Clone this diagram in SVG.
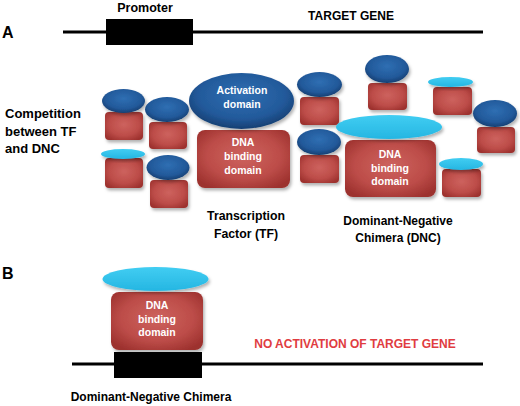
<svg xmlns="http://www.w3.org/2000/svg" width="520" height="406" viewBox="0 0 520 406">
<defs>
<radialGradient id="gRed" cx="50%" cy="45%" r="65%">
<stop offset="0" stop-color="#cd625e"/>
<stop offset="0.6" stop-color="#bd4d49"/>
<stop offset="1" stop-color="#9c302d"/>
</radialGradient>
<radialGradient id="gBlue" cx="50%" cy="40%" r="60%">
<stop offset="0" stop-color="#2f6fb3"/>
<stop offset="0.7" stop-color="#22599a"/>
<stop offset="1" stop-color="#163f72"/>
</radialGradient>
<linearGradient id="gCyan" x1="0" y1="0" x2="0" y2="1">
<stop offset="0" stop-color="#41cdf2"/>
<stop offset="1" stop-color="#25b6e2"/>
</linearGradient>
<filter id="sh" x="-20%" y="-20%" width="150%" height="160%">
<feDropShadow dx="1.5" dy="2.5" stdDeviation="1.8" flood-color="#000" flood-opacity="0.3"/>
</filter>
</defs>
<style>
.t{font-family:"Liberation Sans",Arial,sans-serif;font-weight:bold;fill:#000}
.w{font-family:"Liberation Sans",Arial,sans-serif;font-weight:bold;fill:#fff;text-anchor:middle}
.red{fill:url(#gRed);filter:url(#sh)}
.blue{fill:url(#gBlue);filter:url(#sh)}
.cyan{fill:url(#gCyan);filter:url(#sh)}
.dna{stroke:#000;stroke-width:3}
</style>
<rect width="520" height="406" fill="#fff"/>

<g id="connectors">
<line class="dna" x1="63" y1="32" x2="483" y2="32"/>
<line class="dna" x1="72" y1="364" x2="483" y2="364"/>
</g>

<g id="labels">
<text class="t" x="2" y="38" font-size="16">A</text>
<text class="t" x="2" y="279" font-size="16">B</text>
<text class="t" x="145" y="12" font-size="12.5" text-anchor="middle">Promoter</text>
<text class="t" x="351" y="20" font-size="12" text-anchor="middle">TARGET GENE</text>
<text class="t" x="5" y="118" font-size="13">Competition</text>
<text class="t" x="5" y="135.5" font-size="13">between TF</text>
<text class="t" x="5" y="153" font-size="13">and DNC</text>
<text class="t" x="246" y="220" font-size="12.3" text-anchor="middle">Transcription</text>
<text class="t" x="246" y="238" font-size="12.3" text-anchor="middle">Factor (TF)</text>
<text class="t" x="398" y="225" font-size="12" text-anchor="middle">Dominant-Negative</text>
<text class="t" x="398" y="242" font-size="12" text-anchor="middle">Chimera (DNC)</text>
<text class="t" x="355" y="348" font-size="12" text-anchor="middle" style="fill:#e03c41">NO ACTIVATION OF TARGET GENE</text>
<text class="t" x="151" y="401" font-size="12" text-anchor="middle">Dominant-Negative Chimera</text>
</g>

<g id="promoter">
<rect x="106" y="19" width="87" height="26" fill="#000"/>
</g>

<g id="small-tf-1">
<rect class="red" x="105" y="112" width="38" height="28" rx="4"/>
<ellipse class="blue" cx="123.5" cy="101" rx="21.5" ry="12"/>
</g>
<g id="small-tf-2">
<rect class="red" x="149" y="122" width="38" height="27" rx="4"/>
<ellipse class="blue" cx="167" cy="109.5" rx="22" ry="12.5"/>
</g>
<g id="small-dnc-3">
<rect class="red" x="105" y="158" width="38" height="30" rx="4"/>
<ellipse class="cyan" cx="123" cy="154" rx="22" ry="5"/>
</g>
<g id="small-tf-4">
<rect class="red" x="150" y="180" width="38" height="28" rx="4"/>
<ellipse class="blue" cx="168" cy="167.5" rx="21.5" ry="12.5"/>
</g>

<g id="tf">
<rect class="red" x="197" y="130" width="93" height="58" rx="8"/>
<ellipse class="blue" cx="241.5" cy="101" rx="52.5" ry="28"/>
<text class="w" x="242" y="94" font-size="10.5">Activation</text>
<text class="w" x="242" y="108" font-size="10.5">domain</text>
<text class="w" x="243" y="146" font-size="10.5">DNA</text>
<text class="w" x="243" y="160" font-size="10.5">binding</text>
<text class="w" x="243" y="174" font-size="10.5">domain</text>
</g>

<g id="small-tf-5">
<rect class="red" x="300" y="97" width="39" height="28" rx="4"/>
<ellipse class="blue" cx="319.5" cy="84.5" rx="22.5" ry="12.5"/>
</g>
<g id="small-tf-6">
<rect class="red" x="300" y="155" width="39" height="28" rx="4"/>
<ellipse class="blue" cx="319" cy="142" rx="22" ry="13"/>
</g>
<g id="small-tf-7">
<rect class="red" x="368" y="83" width="39" height="27" rx="4"/>
<ellipse class="blue" cx="387" cy="69" rx="22" ry="14"/>
</g>
<g id="small-dnc-8">
<rect class="red" x="433" y="87" width="39" height="28" rx="4"/>
<ellipse class="cyan" cx="450.5" cy="82" rx="22.5" ry="5"/>
</g>
<g id="small-tf-9">
<rect class="red" x="477" y="127" width="38" height="26" rx="4"/>
<ellipse class="blue" cx="495" cy="113.5" rx="22" ry="13.5"/>
</g>

<g id="dnc">
<rect class="red" x="345" y="140" width="91" height="57" rx="8"/>
<ellipse class="cyan" cx="389" cy="127" rx="53" ry="12"/>
<text class="w" x="390" y="158" font-size="10.5">DNA</text>
<text class="w" x="390" y="172" font-size="10.5">binding</text>
<text class="w" x="390" y="185" font-size="10.5">domain</text>
</g>

<g id="small-dnc-10">
<rect class="red" x="442" y="169" width="39" height="28" rx="4"/>
<ellipse class="cyan" cx="461" cy="164" rx="22" ry="6"/>
</g>

<g id="dnc-bound">
<rect x="114" y="352" width="88" height="26" fill="#000"/>
<rect class="red" x="111" y="292" width="92" height="58" rx="8"/>
<ellipse class="cyan" cx="155.5" cy="279" rx="53" ry="12"/>
<text class="w" x="157" y="309" font-size="10.5">DNA</text>
<text class="w" x="157" y="323" font-size="10.5">binding</text>
<text class="w" x="157" y="336" font-size="10.5">domain</text>
</g>
</svg>
